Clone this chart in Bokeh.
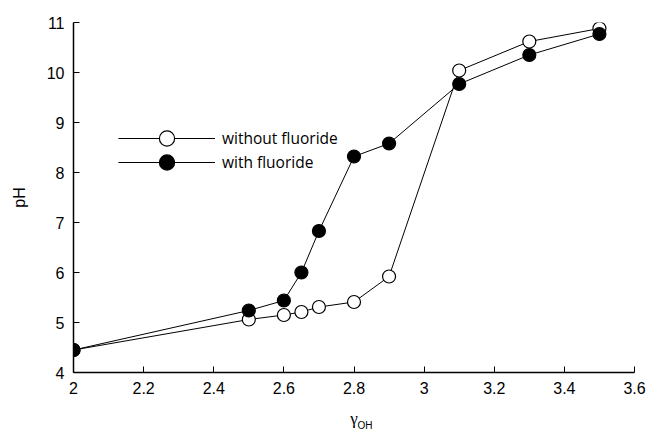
from bokeh.plotting import figure
from bokeh.models import Legend, LegendItem, Title, Range1d, FixedTicker
from bokeh.embed import file_html
from bokeh.resources import INLINE

gamma_oh = [2.0, 2.5, 2.6, 2.65, 2.7, 2.8, 2.9, 3.1, 3.3, 3.5]
ph_without = [4.45, 5.06, 5.15, 5.21, 5.31, 5.41, 5.92, 10.04, 10.62, 10.88]
ph_with = [4.45, 5.24, 5.44, 6.0, 6.83, 8.32, 8.58, 9.77, 10.35, 10.77]
x_ticks = [2.0, 2.2, 2.4, 2.6, 2.8, 3.0, 3.2, 3.4, 3.6]
y_ticks = [4, 5, 6, 7, 8, 9, 10, 11]
legend_labels = ["without fluoride", "with fluoride"]

p = figure(width=649, height=431, output_backend="svg", toolbar_location=None,
           x_range=Range1d(2.0, 3.6), y_range=Range1d(4, 11),
           min_border_left=73, min_border_right=15, min_border_top=22, min_border_bottom=59)
p.outline_line_color = None
p.grid.visible = False
p.background_fill_color = "white"

tick_font = "Liberation Sans"
for ax, ticks in ((p.xaxis[0], x_ticks), (p.yaxis[0], y_ticks)):
    ax.ticker = FixedTicker(ticks=ticks)
    ax.minor_tick_line_color = None
    ax.major_tick_in = 6
    ax.major_tick_out = 0
    ax.axis_line_width = 1.5
    ax.major_tick_line_width = 1
    ax.major_label_text_font = tick_font
    ax.major_label_text_font_size = "16px"
    ax.major_label_text_color = "black"
    ax.axis_line_color = "black"
    ax.major_tick_line_color = "black"
    ax.major_label_standoff = 9

p.xaxis[0].major_label_overrides = {2.0: "2", 3.0: "3"}
p.xaxis[0].axis_label = "γ"
p.xaxis[0].axis_label_text_font = "Liberation Serif"
p.xaxis[0].axis_label_text_font_style = "normal"
p.xaxis[0].axis_label_text_font_size = "17px"
p.xaxis[0].axis_label_text_color = "black"
p.xaxis[0].axis_label_standoff = 12

p.yaxis[0].axis_label = "pH"
p.yaxis[0].axis_label_text_font = tick_font
p.yaxis[0].axis_label_text_font_style = "normal"
p.yaxis[0].axis_label_text_font_size = "16px"
p.yaxis[0].axis_label_text_color = "black"
p.yaxis[0].axis_label_standoff = 16

l1 = p.line(gamma_oh, ph_without, line_color="black", line_width=1)
s1 = p.scatter(gamma_oh, ph_without, size=13, fill_color="white", line_color="black", line_width=1.2)
l2 = p.line(gamma_oh, ph_with, line_color="black", line_width=1)
s2 = p.scatter(gamma_oh, ph_with, size=13, fill_color="black", line_color="black", line_width=1.2)

common = dict(glyph_width=97, glyph_height=38, label_height=24, label_standoff=7,
              padding=0, spacing=0, margin=0, border_line_color=None,
              background_fill_alpha=0, label_text_font="Open Sans",
              label_text_font_size="15.5px", label_text_color="black",
              label_text_baseline="alphabetic")
leg1 = Legend(items=[LegendItem(label=legend_labels[0], renderers=[l1, s1])],
              location=(45, 215), **common)
leg2 = Legend(items=[LegendItem(label=legend_labels[1], renderers=[l2, s2])],
              location=(45, 191), **common)
p.add_layout(leg1)
p.add_layout(leg2)

t_sub = Title(text="OH", text_font="Liberation Sans", text_font_size="10px",
              text_font_style="normal", text_color="black", align="left",
              vertical_align="top", offset=284, standoff=-21)
p.add_layout(t_sub, "below")

open("out.html", "w").write(file_html(p, INLINE))
